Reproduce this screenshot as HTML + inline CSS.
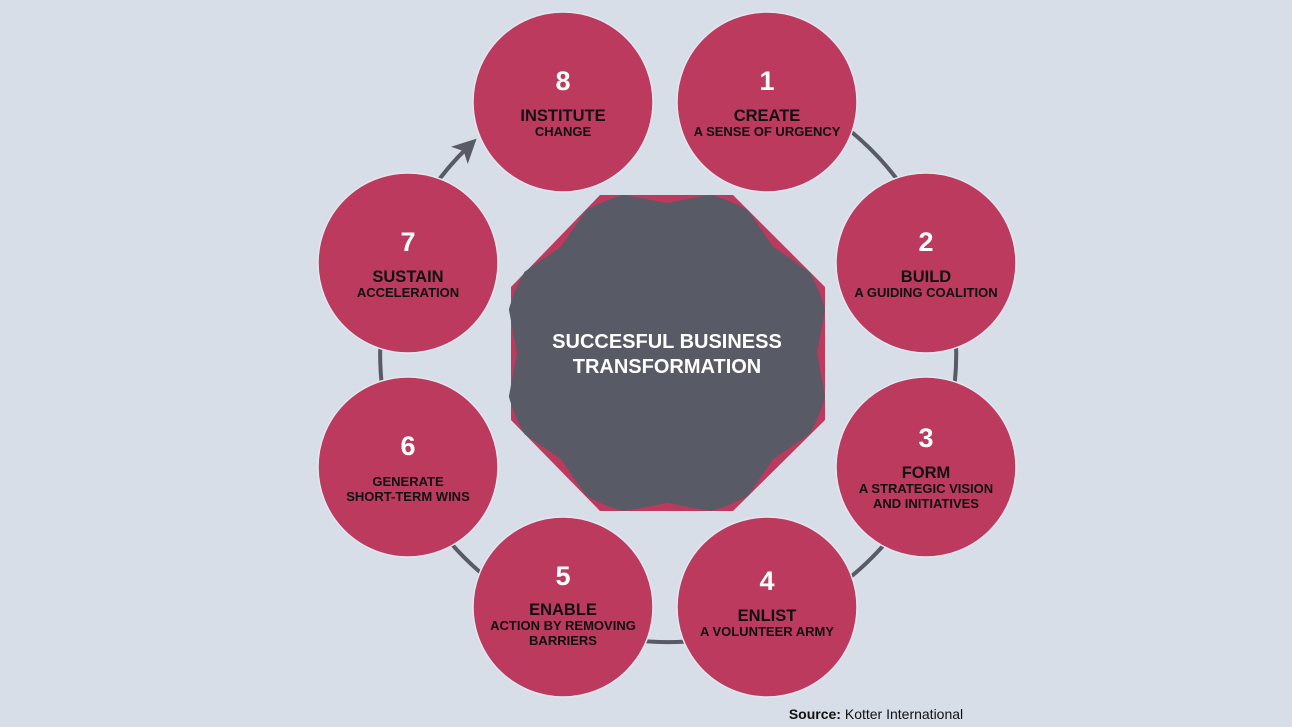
<!DOCTYPE html>
<html><head><meta charset="utf-8"><style>
html,body{margin:0;padding:0;background:#d7dee8;}
svg{display:block}
text{font-family:"Liberation Sans",sans-serif;font-weight:bold;text-anchor:middle}
.n{fill:#fff;font-size:27px}
.t{fill:#111;font-size:16.5px}
.s{fill:#111;font-size:13px}
</style></head><body>
<svg width="1292" height="727" viewBox="0 0 1292 727">
<rect width="1292" height="727" fill="#d7dee8"/>
<defs>
<marker id="ah" markerWidth="6" markerHeight="6" refX="3" refY="3" orient="auto" markerUnits="strokeWidth">
<path d="M0,0 L6,3 L0,6 L1.5,3 z" fill="#585a66"/>
</marker>
<clipPath id="star"><polygon id="sp" points=""/></clipPath>
</defs>
<path d="M 811,104 A 288 288 0 1 1 468,147" fill="none" stroke="#585a66" stroke-width="4" marker-end="url(#ah)"/>
<polygon points="600,195 733,195 825,287 825,420 733,511 600,511 511,420 511,287" fill="#bb3a5e"/>
<circle cx="667" cy="353" r="164" fill="#585a66" clip-path="url(#star)"/>
<text x="667" y="348" style="fill:#fff;font-size:20px">SUCCESFUL BUSINESS</text>
<text x="667" y="373" style="fill:#fff;font-size:20px">TRANSFORMATION</text>
<g stroke="#e3e6ee" stroke-width="1.5" fill="#bb3a5e">
<circle cx="563" cy="102" r="90"/>
<circle cx="767" cy="102" r="90"/>
<circle cx="926" cy="263" r="90"/>
<circle cx="926" cy="467" r="90"/>
<circle cx="767" cy="607" r="90"/>
<circle cx="563" cy="607" r="90"/>
<circle cx="408" cy="467" r="90"/>
<circle cx="408" cy="263" r="90"/>
</g>
<text class="n" x="563" y="90">8</text><text class="t" x="563" y="121">INSTITUTE</text><text class="s" x="563" y="136">CHANGE</text>
<text class="n" x="767" y="90">1</text><text class="t" x="767" y="121">CREATE</text><text class="s" x="767" y="136">A SENSE OF URGENCY</text>
<text class="n" x="926" y="251">2</text><text class="t" x="926" y="282">BUILD</text><text class="s" x="926" y="297">A GUIDING COALITION</text>
<text class="n" x="926" y="447">3</text><text class="t" x="926" y="478">FORM</text><text class="s" x="926" y="493">A STRATEGIC VISION</text><text class="s" x="926" y="508">AND INITIATIVES</text>
<text class="n" x="767" y="590">4</text><text class="t" x="767" y="621">ENLIST</text><text class="s" x="767" y="636">A VOLUNTEER ARMY</text>
<text class="n" x="563" y="585">5</text><text class="t" x="563" y="615">ENABLE</text><text class="s" x="563" y="630">ACTION BY REMOVING</text><text class="s" x="563" y="645">BARRIERS</text>
<text class="n" x="408" y="455">6</text><text class="s" x="408" y="486">GENERATE</text><text class="s" x="408" y="501">SHORT-TERM WINS</text>
<text class="n" x="408" y="251">7</text><text class="t" x="408" y="282">SUSTAIN</text><text class="s" x="408" y="297">ACCELERATION</text>
<text x="876" y="719" style="font-size:14px;fill:#111;font-weight:normal"><tspan font-weight="bold">Source:</tspan> Kotter International</text>
</svg>
<script>
(function(){
var cx=667,cy=353,pts=[];
for(var k=0;k<16;k++){var a=(k*22.5-90)*Math.PI/180;var r=(k%2==0)?150:176;pts.push((cx+r*Math.cos(a)).toFixed(1)+","+(cy+r*Math.sin(a)).toFixed(1));}
document.getElementById('sp').setAttribute('points',pts.join(' '));
})();
</script>
</body></html>
